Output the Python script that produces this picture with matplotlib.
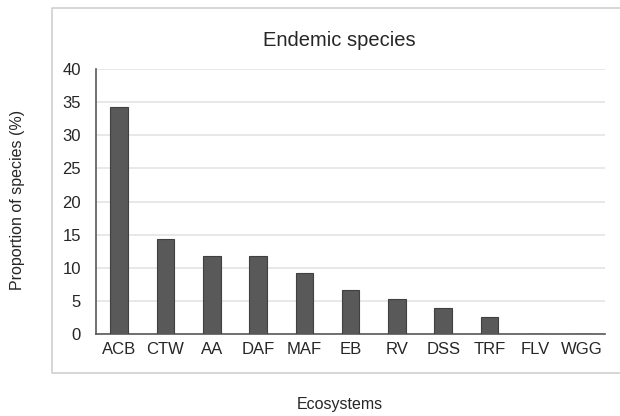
import matplotlib
matplotlib.use('Agg')
import matplotlib.pyplot as plt
from matplotlib.lines import Line2D

plt.rcParams['font.family'] = ['Liberation Sans', 'DejaVu Sans']

ecosystems = ['ACB', 'CTW', 'AA', 'DAF', 'MAF', 'EB', 'RV', 'DSS', 'TRF', 'FLV', 'WGG']
proportion = [34.2, 14.4, 11.8, 11.8, 9.2, 6.6, 5.3, 3.9, 2.6, 0, 0]
yticks = [0, 5, 10, 15, 20, 25, 30, 35, 40]

fig = plt.figure(figsize=(6.2, 4.16), dpi=100)
fig.patch.set_facecolor('white')

# light frame around chart area, open on the right (runs off the image)
fig.lines.append(Line2D([1.0, 0.084, 0.084, 1.0], [0.980, 0.980, 0.103, 0.103],
                        transform=fig.transFigure, color='#d0d0d0', linewidth=1.2))

ax = fig.add_axes([0.155, 0.197, 0.821, 0.637])
x = range(len(ecosystems))
ax.bar(x, proportion, width=0.38, color='#595959', edgecolor='#404040', linewidth=0.8, zorder=3)

ax.set_ylim(0, 40)
ax.set_xlim(-0.5, len(ecosystems) - 0.5)
ax.set_yticks(yticks)
ax.set_xticks(list(x))
ax.set_xticklabels(ecosystems)
ax.tick_params(length=0, labelsize=12, colors='#262626', pad=6)
ax.tick_params(axis='y', pad=11)
ax.grid(axis='y', color='#e4e4e4', linewidth=1.2, zorder=0)

for s in ['top', 'right']:
    ax.spines[s].set_visible(False)
for s in ['left', 'bottom']:
    ax.spines[s].set_color('#595959')
    ax.spines[s].set_linewidth(1.2)

fig.text(0.548, 0.903, 'Endemic species', ha='center', va='center', fontsize=14.5, color='#262626')
fig.text(0.548, 0.027, 'Ecosystems', ha='center', va='center', fontsize=11.5, color='#262626')
fig.text(0.029, 0.52, 'Proportion of species (%)', ha='center', va='center', rotation=90,
         fontsize=11.5, color='#262626')

fig.savefig('out.png', dpi=100)
